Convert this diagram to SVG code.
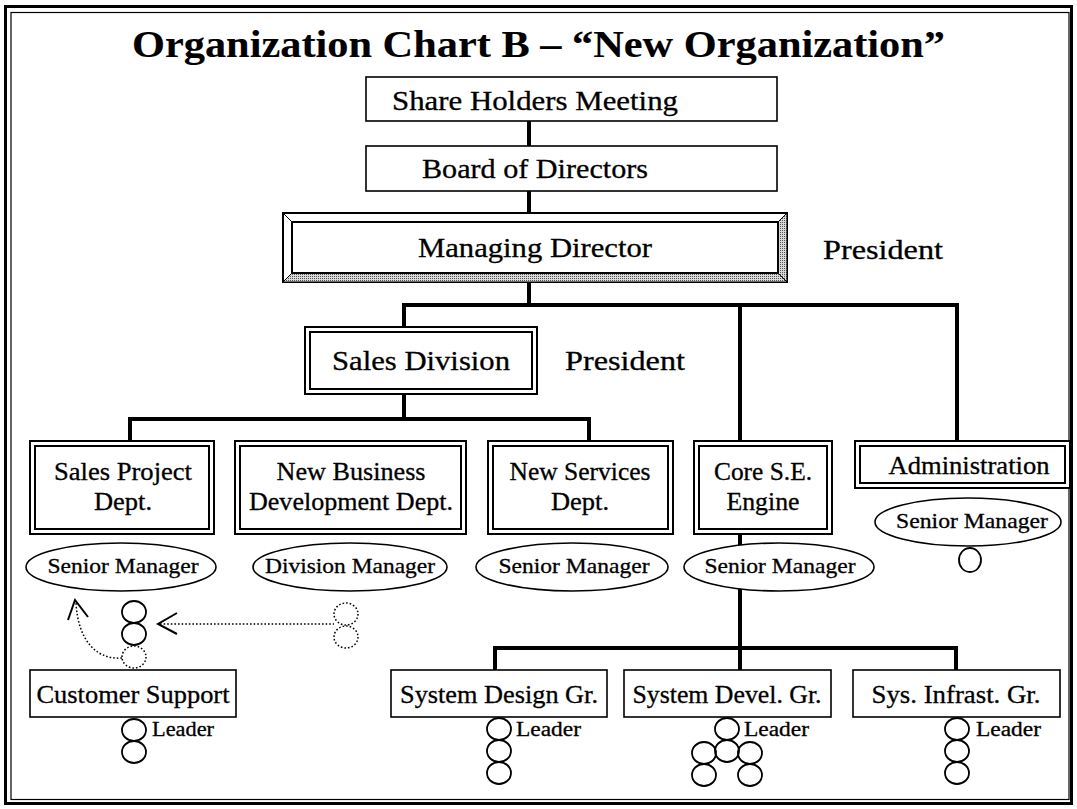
<svg xmlns="http://www.w3.org/2000/svg" width="1077" height="809" viewBox="0 0 1077 809">
  <style>
    text { font-family: "Liberation Serif", "Times New Roman", serif; fill: #000; stroke: #000; stroke-width: 0.3; }
    .title { font-size: 37px; font-weight: bold; stroke-width: 0.1; }
    .big { font-size: 27px; }
    .mid { font-size: 25px; }
    .small { font-size: 22px; }
    .lead { font-size: 20px; }
    .box { fill: #fff; stroke: #000; stroke-width: 1.6; }
    .dbl { fill: #fff; stroke: #000; stroke-width: 2; }
    .oval { fill: #fff; stroke: #000; stroke-width: 1.6; }
    .head { fill: none; stroke: #000; stroke-width: 1.8; }
    .ghost { fill: none; stroke: #000; stroke-width: 1.5; stroke-dasharray: 1.6 2; }
    .link { fill: none; stroke: #000; stroke-width: 4; stroke-linecap: square; }
    .mark { fill: none; stroke: #000; stroke-width: 2; }
  </style>
  <defs>
    <pattern id="shade" width="2" height="2" patternUnits="userSpaceOnUse">
      <rect width="2" height="2" fill="#d8d8d8"/>
      <rect width="1" height="1" fill="#555"/>
    </pattern>
  </defs>

  <rect width="1077" height="809" fill="#fff"/>
  <!-- page frame -->
  <rect x="5.5" y="6.5" width="1066" height="797" fill="none" stroke="#000" stroke-width="3"/>
  <rect x="11" y="12.5" width="1058" height="787" fill="none" stroke="#000" stroke-width="1.2"/>

  <text class="title" x="538.5" y="57" text-anchor="middle" textLength="813" lengthAdjust="spacingAndGlyphs">Organization Chart B – “New Organization”</text>

  <!-- connectors -->
  <g id="connectors">
    <line class="link" x1="529" y1="121" x2="529" y2="146"/>
    <line class="link" x1="529" y1="191" x2="529" y2="213"/>
    <line class="link" x1="529" y1="282" x2="529" y2="305"/>
    <polyline class="link" points="404,327 404,305 957,305 957,441"/>
    <line class="link" x1="740" y1="305" x2="740" y2="441"/>
    <line class="link" x1="404" y1="394" x2="404" y2="419"/>
    <polyline class="link" points="130,441 130,419 589,419 589,441"/>
    <line class="link" x1="740" y1="534" x2="740" y2="670"/>
    <polyline class="link" points="495,670 495,648 956,648 956,670"/>
  </g>

  <g id="share-holders">
    <rect class="box" x="366" y="77" width="411" height="44"/>
    <text class="big" x="535" y="110" text-anchor="middle" textLength="286" lengthAdjust="spacingAndGlyphs">Share Holders Meeting</text>
  </g>

  <g id="board">
    <rect class="box" x="366" y="146" width="411" height="45"/>
    <text class="big" x="535" y="178" text-anchor="middle" textLength="226" lengthAdjust="spacingAndGlyphs">Board of Directors</text>
  </g>

  <g id="managing-director">
    <rect x="283" y="213" width="504" height="69" fill="#fff" stroke="#000" stroke-width="2"/>
    <polygon points="283,282 787,282 778,273 292,273" fill="url(#shade)" stroke="#000" stroke-width="1"/>
    <polygon points="787,213 787,282 778,273 778,222" fill="url(#shade)" stroke="#000" stroke-width="1"/>
    <line x1="283" y1="213" x2="292" y2="222" stroke="#000" stroke-width="1"/>
    <line x1="283" y1="282" x2="292" y2="273" stroke="#000" stroke-width="1"/>
    <rect x="292" y="222" width="486" height="51" fill="#fff" stroke="#000" stroke-width="2"/>
    <text class="big" x="535" y="257" text-anchor="middle" textLength="234" lengthAdjust="spacingAndGlyphs">Managing Director</text>
  </g>
  <text class="big" x="823" y="259" textLength="120" lengthAdjust="spacingAndGlyphs">President</text>

  <g id="sales-division">
    <rect class="dbl" x="305" y="327" width="232" height="67"/>
    <rect class="dbl" x="310" y="332" width="222" height="57"/>
    <text class="big" x="421" y="370" text-anchor="middle" textLength="178" lengthAdjust="spacingAndGlyphs">Sales Division</text>
  </g>
  <text class="big" x="565" y="370" textLength="120" lengthAdjust="spacingAndGlyphs">President</text>

  <g id="sales-project">
    <rect class="dbl" x="30" y="441" width="184" height="93"/>
    <rect class="dbl" x="35" y="446" width="174" height="83"/>
    <text class="mid" x="123" y="480" text-anchor="middle" textLength="138" lengthAdjust="spacingAndGlyphs">Sales Project</text>
    <text class="mid" x="123" y="510" text-anchor="middle" textLength="58" lengthAdjust="spacingAndGlyphs">Dept.</text>
    <ellipse class="oval" cx="121" cy="567" rx="95" ry="24"/>
    <text class="small" x="123" y="573" text-anchor="middle" textLength="151" lengthAdjust="spacingAndGlyphs">Senior Manager</text>
  </g>

  <g id="new-business">
    <rect class="dbl" x="235" y="441" width="231" height="93"/>
    <rect class="dbl" x="240" y="446" width="221" height="83"/>
    <text class="mid" x="351" y="480" text-anchor="middle" textLength="149" lengthAdjust="spacingAndGlyphs">New Business</text>
    <text class="mid" x="351" y="510" text-anchor="middle" textLength="204" lengthAdjust="spacingAndGlyphs">Development Dept.</text>
    <ellipse class="oval" cx="350" cy="567" rx="97" ry="24"/>
    <text class="small" x="350" y="573" text-anchor="middle" textLength="170" lengthAdjust="spacingAndGlyphs">Division Manager</text>
  </g>

  <g id="new-services">
    <rect class="dbl" x="488" y="441" width="185" height="93"/>
    <rect class="dbl" x="493" y="446" width="175" height="83"/>
    <text class="mid" x="580" y="480" text-anchor="middle" textLength="141" lengthAdjust="spacingAndGlyphs">New Services</text>
    <text class="mid" x="580" y="510" text-anchor="middle" textLength="58" lengthAdjust="spacingAndGlyphs">Dept.</text>
    <ellipse class="oval" cx="572" cy="567" rx="96" ry="24"/>
    <text class="small" x="574" y="573" text-anchor="middle" textLength="151" lengthAdjust="spacingAndGlyphs">Senior Manager</text>
  </g>

  <g id="core-se">
    <rect class="dbl" x="694" y="441" width="138" height="93"/>
    <rect class="dbl" x="699" y="446" width="128" height="83"/>
    <text class="mid" x="763" y="480" text-anchor="middle" textLength="98" lengthAdjust="spacingAndGlyphs">Core S.E.</text>
    <text class="mid" x="763" y="510" text-anchor="middle" textLength="73" lengthAdjust="spacingAndGlyphs">Engine</text>
    <ellipse class="oval" cx="779" cy="567" rx="95" ry="24"/>
    <text class="small" x="780" y="573" text-anchor="middle" textLength="151" lengthAdjust="spacingAndGlyphs">Senior Manager</text>
  </g>

  <g id="administration">
    <rect class="dbl" x="855" y="441" width="215" height="47"/>
    <rect class="dbl" x="860" y="446" width="205" height="37"/>
    <text class="mid" x="969" y="474" text-anchor="middle" textLength="161" lengthAdjust="spacingAndGlyphs">Administration</text>
    <ellipse class="oval" cx="968" cy="522" rx="93" ry="24"/>
    <text class="small" x="972" y="528" text-anchor="middle" textLength="152" lengthAdjust="spacingAndGlyphs">Senior Manager</text>
    <ellipse class="head" cx="970" cy="560" rx="11" ry="12"/>
  </g>

  <!-- staff moving into the sales project team -->
  <g id="transfer">
    <ellipse class="head" cx="134" cy="612" rx="12" ry="11"/>
    <ellipse class="head" cx="134" cy="634" rx="12" ry="11"/>
    <ellipse class="ghost" cx="134" cy="657" rx="12" ry="11"/>
    <ellipse class="ghost" cx="346" cy="614" rx="12" ry="11"/>
    <ellipse class="ghost" cx="346" cy="637" rx="12" ry="11"/>
    <line class="ghost" x1="160" y1="624" x2="334" y2="624"/>
    <polyline class="mark" points="177,613 158,624 177,634"/>
    <path class="ghost" d="M122,658 C96,660 78,640 76,603"/>
    <polyline class="mark" points="68,620 75,600 88,617"/>
  </g>

  <g id="customer-support">
    <rect class="box" x="30" y="670" width="206" height="47"/>
    <text class="mid" x="133" y="703" text-anchor="middle" textLength="193" lengthAdjust="spacingAndGlyphs">Customer Support</text>
    <ellipse class="head" cx="134" cy="730" rx="12" ry="11"/>
    <ellipse class="head" cx="134" cy="752" rx="12" ry="11"/>
    <text class="lead" x="152" y="736" textLength="62" lengthAdjust="spacingAndGlyphs">Leader</text>
  </g>

  <g id="system-design">
    <rect class="box" x="391" y="670" width="216" height="47"/>
    <text class="mid" x="499" y="703" text-anchor="middle" textLength="198" lengthAdjust="spacingAndGlyphs">System Design Gr.</text>
    <ellipse class="head" cx="499" cy="729" rx="12" ry="11"/>
    <ellipse class="head" cx="499" cy="751" rx="12" ry="11"/>
    <ellipse class="head" cx="499" cy="773" rx="12" ry="11"/>
    <text class="lead" x="516" y="736" textLength="65" lengthAdjust="spacingAndGlyphs">Leader</text>
  </g>

  <g id="system-devel">
    <rect class="box" x="624" y="670" width="207" height="47"/>
    <text class="mid" x="727" y="703" text-anchor="middle" textLength="189" lengthAdjust="spacingAndGlyphs">System Devel. Gr.</text>
    <ellipse class="head" cx="727" cy="729" rx="12" ry="11"/>
    <ellipse class="head" cx="704" cy="753" rx="12" ry="11"/>
    <ellipse class="head" cx="750" cy="753" rx="12" ry="11"/>
    <ellipse class="head" cx="727" cy="751" rx="12" ry="11"/>
    <ellipse class="head" cx="704" cy="775" rx="12" ry="11"/>
    <ellipse class="head" cx="750" cy="775" rx="12" ry="11"/>
    <text class="lead" x="744" y="736" textLength="65" lengthAdjust="spacingAndGlyphs">Leader</text>
  </g>

  <g id="sys-infrast">
    <rect class="box" x="853" y="670" width="207" height="47"/>
    <text class="mid" x="956" y="703" text-anchor="middle" textLength="169" lengthAdjust="spacingAndGlyphs">Sys. Infrast. Gr.</text>
    <ellipse class="head" cx="957" cy="729" rx="12" ry="11"/>
    <ellipse class="head" cx="957" cy="751" rx="12" ry="11"/>
    <ellipse class="head" cx="957" cy="773" rx="12" ry="11"/>
    <text class="lead" x="976" y="736" textLength="65" lengthAdjust="spacingAndGlyphs">Leader</text>
  </g>
</svg>
